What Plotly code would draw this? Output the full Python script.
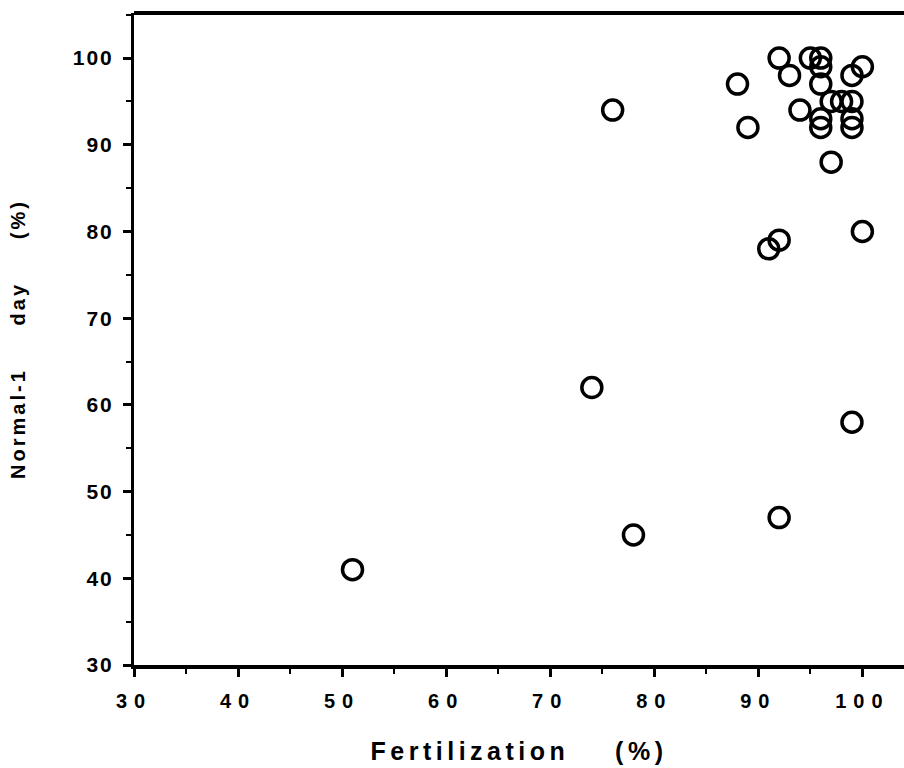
import plotly.graph_objects as go

# Data
fertilization = [51, 74, 76, 78, 88, 89, 91, 92, 92, 92, 93, 94, 95, 96, 96,
                 96, 96, 96, 97, 97, 98, 99, 99, 99, 99, 99, 100, 100]
normal_1day = [41, 62, 94, 45, 97, 92, 78, 79, 47, 100, 98, 94, 100, 100, 99,
               97, 93, 92, 88, 95, 95, 95, 93, 92, 98, 58, 99, 80]

x_ticks = [30, 40, 50, 60, 70, 80, 90, 100]
y_ticks = [30, 40, 50, 60, 70, 80, 90, 100]

x_title = "Fertilization" + "\u00a0" * 4 + "(%)"
y_title = "Normal-1" + "\u00a0" * 5 + "day" + "\u00a0" * 5 + "(%)"

font_family = "Liberation Sans, Arial, sans-serif"

fig = go.Figure()
fig.add_trace(go.Scatter(
    x=fertilization, y=normal_1day, mode="markers",
    marker=dict(symbol="circle-open", size=20, color="black",
                line=dict(color="black", width=3.5)),
    showlegend=False, hoverinfo="x+y",
))

fig.update_layout(
    width=904, height=768,
    margin=dict(l=134, r=0, t=13, b=103),
    paper_bgcolor="white", plot_bgcolor="white",
    font=dict(family=font_family, color="black"),
    xaxis=dict(
        range=[30, 104], tickvals=x_ticks, ticktext=[str(v) for v in x_ticks],
        showgrid=False, zeroline=False,
        showline=True, linecolor="black", linewidth=4,
        ticks="outside", ticklen=8, tickwidth=2.5, tickcolor="black",
        minor=dict(dtick=5, tick0=0, ticks="outside", ticklen=5, tickwidth=2, tickcolor="black"),
        tickfont=dict(size=20, weight="bold"),
        ticklabelstandoff=7,
        automargin=False,
        title=dict(text=x_title, font=dict(size=25, weight="bold"), standoff=32),
    ),
    yaxis=dict(
        range=[30, 105.2], tickvals=y_ticks, ticktext=[str(v) for v in y_ticks],
        showgrid=False, zeroline=False,
        showline=True, linecolor="black", linewidth=3,
        ticks="outside", ticklen=8, tickwidth=2.5, tickcolor="black",
        minor=dict(dtick=5, tick0=0, ticks="outside", ticklen=5, tickwidth=2, tickcolor="black"),
        tickfont=dict(size=21, weight="bold"),
        ticklabelstandoff=5,
        automargin=False,
        title=dict(text=y_title, font=dict(size=20, weight="bold"), standoff=48),
    ),
    shapes=[dict(type="line", xref="paper", yref="paper", x0=0, x1=1, y0=1, y1=1,
                 line=dict(color="black", width=4))],
)

post = """
document.body.style.margin = '0';
var gd = document.getElementById('{plot_id}');
function ls(sel, v) {
  gd.querySelectorAll(sel).forEach(function (t) { t.style.letterSpacing = v; });
}
ls('.xtick text', '7px');
ls('.ytick text', '2px');
ls('.xtitle', '4.5px');
ls('.ytitle', '3px');
"""

fig.write_html("out.html", post_script=post, config={"displayModeBar": False})
